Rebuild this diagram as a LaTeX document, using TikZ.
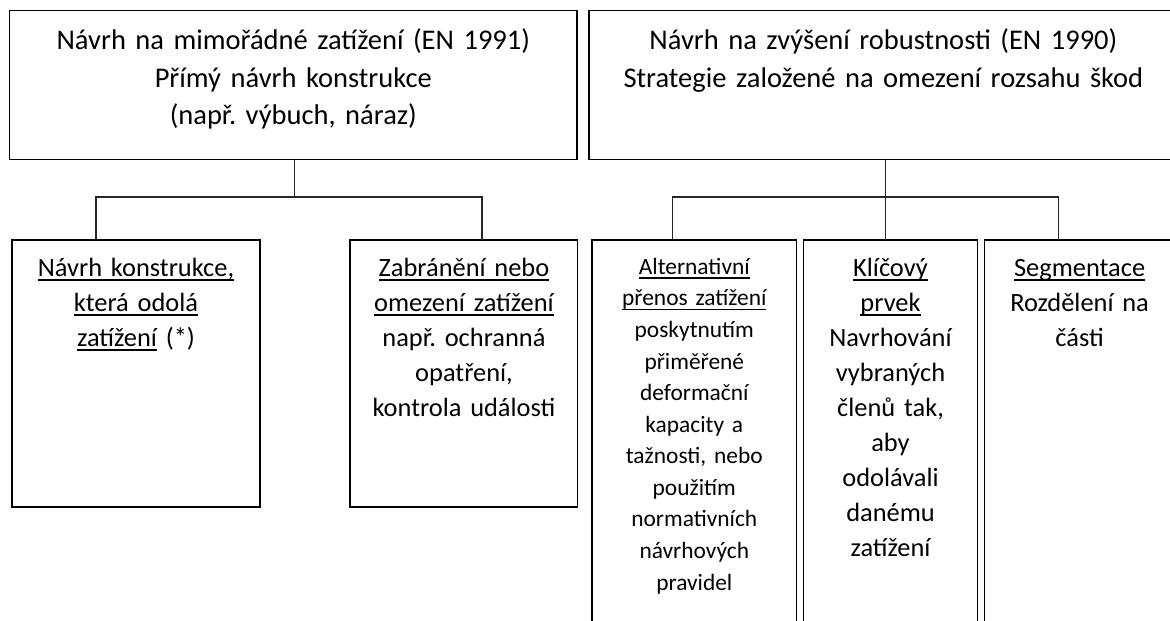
\documentclass[tikz,border=0pt]{standalone}
\usepackage{fontspec}
\setmainfont{Carlito}
\frenchspacing
\newsavebox\ulbox
\newcommand\myul[1]{\leavevmode\sbox\ulbox{#1}\rlap{\rule[-4.4pt]{\wd\ulbox}{1.5pt}}\usebox\ulbox}
\usetikzlibrary{calc}
\tikzset{
  box/.style={draw=black, line width=1.2pt, rectangle, inner sep=0pt, outer sep=0pt, anchor=north west},
  conn/.style={draw=black!85, line width=1.3pt},
  toptext/.style={anchor=base, align=center, inner sep=0pt, text width=560pt, font=\frenchspacing\fontsize{28.5}{37.5}\selectfont},
  bottext/.style={anchor=base, align=center, inner sep=0pt, text width=240pt, font=\frenchspacing\fontsize{26.4}{35}\selectfont},
  smalltext/.style={anchor=base, align=center, inner sep=0pt, text width=220pt, font=\frenchspacing\fontsize{23.4}{31.57}\selectfont}
}
\begin{document}
\begin{tikzpicture}[x=1pt, y=-1pt]
\useasboundingbox (0,0) rectangle (1170,621);
\begin{scope}
\clip (0,0) rectangle (1170,621);
% top boxes
\node[box, minimum width=567.5pt, minimum height=149pt] (tl) at (9.5,10.5) {};
\node[box, minimum width=596pt, minimum height=149pt] (tr) at (589,10.5) {};
% bottom left boxes
\node[box, minimum width=248pt, minimum height=267pt] (b1) at (12,240) {};
\node[box, minimum width=227.7pt, minimum height=267pt] (b2) at (350,240) {};
% bottom right boxes (cut off by the page)
\node[box, minimum width=204.5pt, minimum height=420pt] (bA) at (592,240) {};
\node[box, minimum width=174.5pt, minimum height=420pt] (bB) at (803.3,240) {};
\node[box, minimum width=200pt, minimum height=420pt] (bC) at (984.5,240) {};

% texts
\node[toptext] (tlt) at (293.3,49.5) {Návrh na mimořádné zatížení (EN 1991)\\Přímý návrh konstrukce\\(např. výbuch, náraz)};
\node[toptext] (trt) at (883.4,49.5) {Návrh na zvýšení robustnosti (EN 1990)\\Strategie založené na omezení rozsahu škod};
\node[bottext] (b1t) at (136,276.5) {\myul{Návrh konstrukce,}\\\myul{která odolá}\\\myul{zatížení} (*)};
\node[bottext] (b2t) at (464,276.5) {\myul{Zabránění nebo}\\\myul{omezení zatížení}\\např. ochranná\\opatření,\\kontrola události};
\node[smalltext] (bAt) at (694.3,274.3) {\myul{Alternativní}\\\myul{přenos zatížení}\\poskytnutím\\přiměřené\\deformační\\kapacity a\\tažnosti, nebo\\použitím\\normativních\\návrhových\\pravidel};
\node[bottext] (bBt) at (890.5,276.5) {\myul{Klíčový}\\\myul{prvek}\\Navrhování\\vybraných\\členů tak,\\aby\\odolávali\\danému\\zatížení};
\node[bottext] (bCt) at (1079.6,276.5) {\myul{Segmentace}\\Rozdělení na\\části};

% connectors
\coordinate (jl) at (294.7,197);
\coordinate (jr) at (885.3,197);
\draw[conn] (tl.south -| jl) -- (jl);
\draw[conn] ([xshift=84pt]b1.north west) |- (jl) -| ([xshift=-95.7pt]b2.north east);
\draw[conn] (tr.south -| jr) -- (bB.north -| jr);
\draw[conn] ([xshift=80.3pt]bA.north west) |- (jr) -| ([xshift=74pt]bC.north west);
\end{scope}
\end{tikzpicture}
\end{document}
